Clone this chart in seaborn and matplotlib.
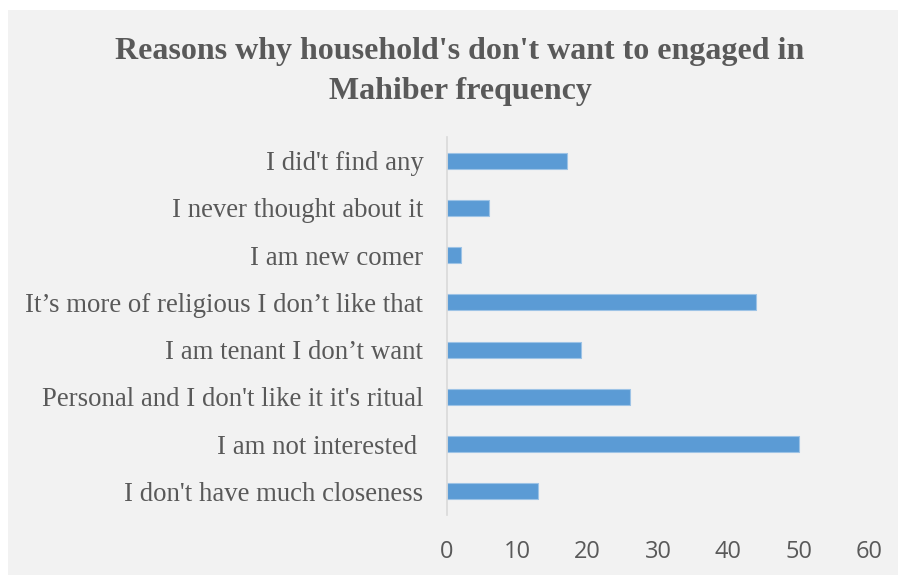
import matplotlib
matplotlib.use("Agg")
import matplotlib.pyplot as plt
import seaborn as sns
import pandas as pd

reasons = [
    "I did't find any",
    "I never thought about it",
    "I am new comer",
    "It\u2019s more of religious I don\u2019t like that",
    "I am tenant I don\u2019t want",
    "Personal and I don't like it it's ritual",
    "I am not interested ",
    "I don't have much closeness",
]
counts = [17, 6, 2, 44, 19, 26, 50, 13]

df = pd.DataFrame({"reason": reasons, "count": counts})

sns.set_style("white")
plt.rcParams["font.family"] = ["Liberation Serif", "DejaVu Serif"]

fig = plt.figure(figsize=(9.02, 5.78), dpi=100, facecolor="white")
# grey chart area with white margin
bg = plt.Rectangle((8 / 902, 3 / 578), 890 / 902, 565 / 578, transform=fig.transFigure,
                   facecolor="#F2F2F2", edgecolor="none", zorder=-10)
fig.add_artist(bg)

ax = fig.add_axes([447 / 902, 1 - 515 / 578, 422 / 902, 378 / 578])
ax.set_zorder(1)
ax.set_facecolor("#F2F2F2")

sns.barplot(data=df, x="count", y="reason", orient="h", color="#5B9BD5",
            width=0.34, edgecolor="#9DC3E6", linewidth=0.8, saturation=1, ax=ax)

ax.set_xlim(0, 60)
ax.set_xticks(range(0, 61, 10))
ax.set_xlabel("")
ax.set_ylabel("")
for s in ["top", "right", "bottom"]:
    ax.spines[s].set_visible(False)
ax.spines["left"].set_color("#D9D9D9")
ax.spines["left"].set_linewidth(1.2)
ax.tick_params(axis="both", length=0)
ax.tick_params(axis="x", pad=18, labelsize=17, labelcolor="#595959")
ax.tick_params(axis="y", pad=17, labelsize=19.3, labelcolor="#595959")
for t in ax.get_xticklabels():
    t.set_fontfamily("Open Sans")

fig.text(0.51, 1 - 71 / 578, "Reasons why household's don't want to engaged in\nMahiber frequency",
         ha="center", va="center", fontsize=23, fontweight="bold", color="#595959",
         linespacing=1.5)

fig.savefig("out.png", dpi=100, facecolor="white")
